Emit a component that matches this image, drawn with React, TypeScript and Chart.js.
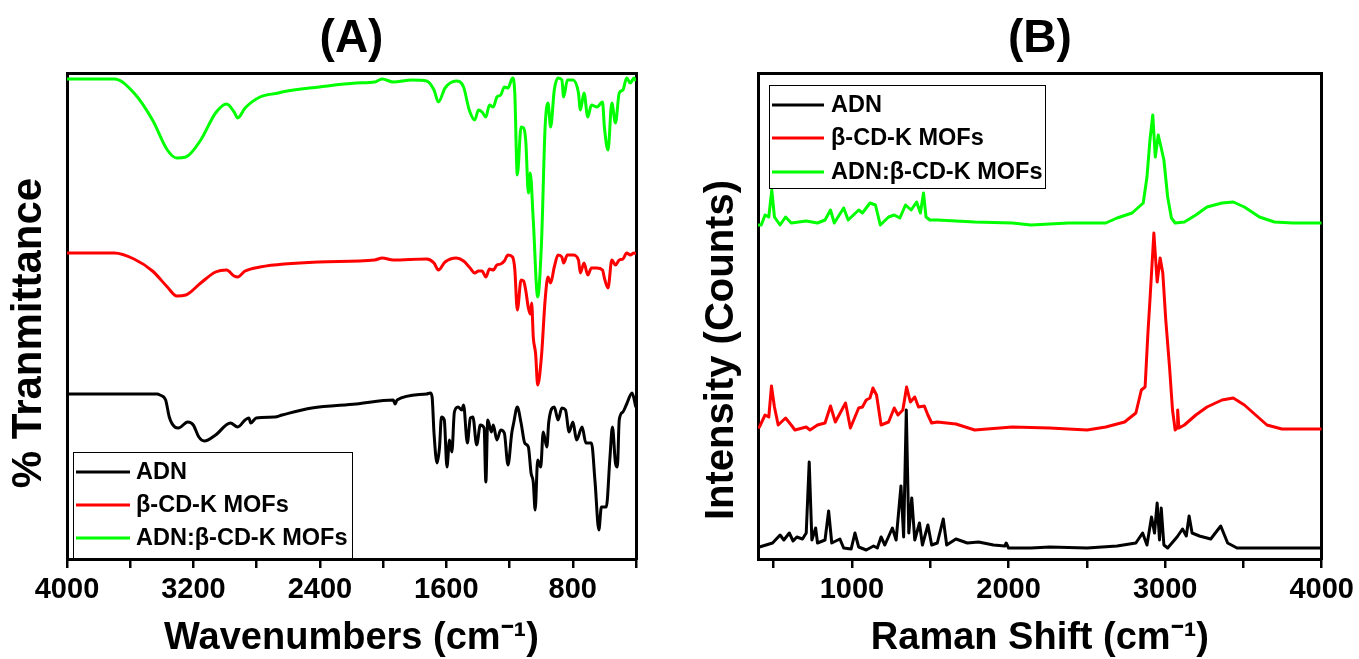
import React, { useEffect, useRef } from 'react';
import { Chart, registerables } from 'chart.js';

Chart.register(...registerables);

const FONT = '"Liberation Sans", Arial, Helvetica, sans-serif';

// ---------- legend / series ----------
const seriesNames = ['ADN', 'β-CD-K MOFs', 'ADN:β-CD-K MOFs'];
const seriesColors = ['#000000', '#ff0000', '#00ff00'];

// ---------- axes ----------
const ftirTicks = [4000, 3600, 3200, 2800, 2400, 2000, 1600, 1200, 800, 400];
const ftirLabelTicks = [4000, 3200, 2400, 1600, 800];
const ramanTicks = [500, 1000, 1500, 2000, 2500, 3000, 3500, 4000];
const ramanLabelTicks = [1000, 2000, 3000, 4000];

// ---------- (A) FTIR: [wavenumber, offset transmittance (a.u.)] ----------
const ftirADN: [number, number][] = [
  [4000, 165], [3430, 165], [3412, 164], [3376, 159], [3353, 142], [3318, 132], [3295, 131],
  [3236, 137], [3201, 134], [3166, 122], [3131, 118], [3060, 124], [2966, 136], [2920, 132],
  [2873, 139], [2849, 141], [2838, 136], [2803, 141], [2685, 142], [2639, 144], [2451, 151],
  [2170, 155], [1936, 159], [1924, 155], [1912, 159], [1725, 165], [1701, 166], [1690, 162],
  [1678, 126], [1659, 96], [1643, 112], [1631, 142], [1613, 139], [1596, 92], [1580, 119],
  [1565, 107], [1549, 147], [1526, 152], [1502, 149], [1491, 154], [1467, 116], [1448, 141],
  [1432, 142], [1408, 114], [1385, 134], [1361, 131], [1350, 77], [1338, 139], [1315, 127],
  [1303, 134], [1280, 119], [1256, 129], [1233, 126], [1210, 94], [1186, 126], [1174, 136],
  [1151, 152], [1127, 136], [1104, 116], [1081, 112], [1064, 86], [1050, 77], [1038, 49],
  [1022, 99], [1003, 92], [987, 127], [964, 112], [952, 137], [917, 152], [893, 139],
  [869, 151], [846, 149], [823, 127], [799, 137], [776, 119], [741, 132], [717, 116],
  [682, 116], [659, 77], [635, 29], [619, 52], [588, 52], [565, 101], [549, 132], [530, 96],
  [518, 92], [506, 139], [483, 147], [459, 155], [425, 166], [401, 152],
];

const ftirMOF: [number, number][] = [
  [4000, 306], [3700, 306], [3576, 300], [3459, 288], [3365, 272], [3306, 263], [3248, 264],
  [3154, 276], [3060, 287], [2990, 289], [2943, 283], [2920, 282], [2873, 288], [2779, 292],
  [2404, 297], [2053, 299], [2006, 301], [1936, 299], [1725, 300], [1678, 296], [1650, 289],
  [1608, 297], [1537, 301], [1491, 298], [1455, 292], [1420, 286], [1397, 288], [1374, 288],
  [1350, 282], [1327, 290], [1303, 289], [1280, 294], [1256, 295], [1233, 298], [1210, 304],
  [1181, 302], [1167, 290], [1151, 249], [1127, 279], [1111, 278], [1097, 268], [1081, 251],
  [1069, 245], [1060, 256], [1050, 222], [1035, 205], [1022, 174], [998, 203], [975, 259],
  [957, 282], [940, 276], [917, 292], [893, 304], [869, 302], [858, 296], [834, 304],
  [799, 304], [764, 299], [752, 286], [729, 296], [705, 284], [682, 291], [647, 291],
  [612, 289], [600, 281], [577, 271], [553, 299], [530, 294], [506, 299], [483, 300],
  [459, 306], [436, 304], [413, 306], [400, 305],
];

const ftirComposite: [number, number][] = [
  [4000, 480], [3700, 480], [3576, 466], [3459, 439], [3365, 409], [3306, 401], [3248, 402],
  [3154, 419], [3060, 446], [2990, 455], [2943, 447], [2920, 441], [2873, 451], [2779, 462],
  [2662, 466], [2639, 467], [2404, 472], [2170, 476], [2053, 477], [2006, 480], [1936, 477],
  [1818, 479], [1725, 478], [1678, 469], [1650, 457], [1608, 471], [1537, 478], [1491, 472],
  [1455, 449], [1420, 439], [1397, 449], [1374, 447], [1350, 442], [1327, 454], [1303, 452],
  [1280, 462], [1256, 464], [1233, 472], [1210, 471], [1181, 481], [1167, 466], [1151, 384],
  [1127, 432], [1111, 431], [1097, 417], [1081, 366], [1069, 386], [1050, 339], [1022, 262],
  [998, 316], [975, 432], [957, 456], [940, 432], [917, 469], [893, 481], [869, 479],
  [858, 462], [834, 479], [799, 479], [764, 466], [752, 449], [729, 466], [705, 442],
  [682, 454], [647, 452], [612, 457], [600, 432], [577, 409], [553, 456], [530, 436],
  [506, 466], [483, 469], [459, 481], [436, 476], [413, 481], [400, 478],
];

// ---------- (B) Raman: [shift, offset intensity (a.u.)] ----------
const ramanADN: [number, number][] = [
  [400, 12], [409, 12], [493, 16], [541, 24], [565, 19], [600, 26], [624, 18], [648, 22],
  [684, 20], [708, 26], [727, 97], [744, 19], [768, 31], [780, 16], [828, 19], [851, 48],
  [871, 16], [923, 20], [947, 11], [995, 10], [1019, 26], [1043, 12], [1091, 9], [1138, 13],
  [1162, 11], [1186, 22], [1210, 14], [1258, 31], [1282, 19], [1313, 73], [1330, 22],
  [1347, 149], [1363, 26], [1382, 61], [1401, 19], [1431, 36], [1450, 14], [1485, 34],
  [1509, 14], [1545, 16], [1583, 40], [1605, 14], [1664, 20], [1737, 16], [1808, 17],
  [1904, 14], [1976, 13], [1985, 16], [2000, 11], [2143, 11], [2263, 12], [2502, 11],
  [2693, 13], [2813, 16], [2856, 26], [2884, 14], [2913, 42], [2932, 26], [2949, 56],
  [2964, 19], [2975, 51], [2992, 14], [3016, 11], [3076, 22], [3111, 30], [3135, 23],
  [3153, 43], [3172, 26], [3219, 23], [3291, 20], [3355, 33], [3399, 16], [3459, 11],
  [3698, 11], [4000, 11],
];

const ramanMOF: [number, number][] = [
  [400, 131], [409, 132], [445, 144], [469, 142], [486, 173], [505, 152], [529, 134],
  [576, 141], [612, 134], [636, 129], [708, 132], [732, 129], [780, 134], [828, 136],
  [863, 153], [894, 137], [935, 149], [959, 156], [990, 131], [1043, 151], [1067, 152],
  [1091, 159], [1115, 161], [1134, 171], [1157, 164], [1186, 134], [1234, 137], [1270, 151],
  [1294, 144], [1325, 149], [1349, 172], [1373, 157], [1401, 162], [1425, 152], [1462, 153],
  [1485, 144], [1509, 136], [1545, 137], [1664, 135], [1784, 129], [2024, 132], [2263, 131],
  [2502, 129], [2621, 132], [2741, 137], [2813, 146], [2848, 169], [2872, 172], [2890, 226],
  [2903, 259], [2928, 326], [2949, 277], [2968, 301], [2985, 286], [3004, 239], [3028, 192],
  [3047, 149], [3064, 129], [3076, 131], [3080, 149], [3088, 131], [3123, 134], [3196, 144],
  [3267, 152], [3363, 159], [3435, 161], [3506, 154], [3578, 144], [3650, 134], [3745, 130],
  [4000, 130],
];

const ramanComposite: [number, number][] = [
  [400, 334], [421, 334], [445, 344], [469, 342], [488, 369], [505, 342], [541, 334],
  [576, 342], [612, 336], [708, 338], [780, 336], [828, 339], [863, 349], [887, 336],
  [947, 351], [976, 339], [1043, 349], [1067, 346], [1115, 356], [1150, 354], [1181, 334],
  [1234, 342], [1270, 344], [1306, 341], [1342, 354], [1378, 349], [1413, 357], [1437, 346],
  [1457, 366], [1473, 342], [1497, 339], [1545, 339], [1784, 337], [2024, 336], [2143, 334],
  [2382, 336], [2621, 336], [2693, 341], [2789, 346], [2860, 356], [2884, 382], [2903, 419],
  [2921, 444], [2937, 402], [2956, 424], [2975, 411], [2992, 399], [3016, 362], [3040, 341],
  [3064, 336], [3123, 337], [3196, 344], [3267, 352], [3363, 356], [3435, 357], [3506, 352],
  [3602, 342], [3698, 337], [3817, 336], [4000, 336],
];

// ---------- panel descriptions ----------
type Panel = {
  label: string;
  xTitle: string;
  yTitle: string;
  series: [number, number][][];
  ticks: number[];
  labelTicks: number[];
  reverse: boolean;
  smooth: boolean;
  lineWidth: number;
  width: number;
  left: number;
  yAxisWidth: number;
  padRight: number;
  yTitlePos: [number, number];
  yTitleSize: number;
  legendBox: [number, number, number, number];
  legendRows: number[];
  legendLine: [number, number];
  legendText: number;
};

const panels: Panel[] = [
  {
    label: '(A)',
    xTitle: 'Wavenumbers (cm⁻¹)',
    yTitle: '% Tranmittance',
    series: [ftirADN, ftirMOF, ftirComposite],
    ticks: ftirTicks,
    labelTicks: ftirLabelTicks,
    reverse: true,
    smooth: true,
    lineWidth: 3,
    width: 690,
    left: 0,
    yAxisWidth: 67,
    padRight: 54,
    yTitlePos: [29, 333],
    yTitleSize: 42,
    legendBox: [73, 452, 352, 558],
    legendRows: [472, 505, 538],
    legendLine: [76, 130],
    legendText: 136,
  },
  {
    label: '(B)',
    xTitle: 'Raman Shift (cm⁻¹)',
    yTitle: 'Intensity (Counts)',
    series: [ramanADN, ramanMOF, ramanComposite],
    ticks: ramanTicks,
    labelTicks: ramanLabelTicks,
    reverse: false,
    smooth: false,
    lineWidth: 3,
    width: 669,
    left: 690,
    yAxisWidth: 68,
    padRight: 33,
    yTitlePos: [32, 350],
    yTitleSize: 40,
    legendBox: [79, 85, 355, 188],
    legendRows: [105, 138, 172],
    legendLine: [82, 134],
    legendText: 141,
  },
];

const HEIGHT = 659;
const TOP = 73;
const BOTTOM_AXIS = 100;

function panelPlugin(p: Panel) {
  return {
    id: 'panelDecor',
    afterDraw(chart: any) {
      const ctx = chart.ctx as CanvasRenderingContext2D;
      const area = chart.chartArea;
      ctx.save();
      ctx.fillStyle = '#000';
      // panel label
      ctx.font = `bold 46px ${FONT}`;
      ctx.textAlign = 'center';
      ctx.textBaseline = 'middle';
      ctx.fillText(p.label, (area.left + area.right) / 2, 39);
      // y title
      ctx.save();
      ctx.translate(p.yTitlePos[0], p.yTitlePos[1]);
      ctx.rotate(-Math.PI / 2);
      ctx.font = `bold ${p.yTitleSize}px ${FONT}`;
      ctx.fillText(p.yTitle, 0, 0);
      ctx.restore();
      // legend
      const [x0, y0, x1, y1] = p.legendBox;
      ctx.fillStyle = '#fff';
      ctx.fillRect(x0, y0, x1 - x0, y1 - y0);
      ctx.strokeStyle = '#000';
      ctx.lineWidth = 1;
      ctx.strokeRect(x0 + 0.5, y0 + 0.5, x1 - x0, y1 - y0);
      ctx.font = `bold 23.5px ${FONT}`;
      ctx.textAlign = 'left';
      ctx.textBaseline = 'middle';
      chart.data.datasets.forEach((ds: any, i: number) => {
        const y = p.legendRows[i];
        ctx.strokeStyle = ds.borderColor;
        ctx.lineWidth = 3;
        ctx.beginPath();
        ctx.moveTo(p.legendLine[0], y);
        ctx.lineTo(p.legendLine[1], y);
        ctx.stroke();
        ctx.fillStyle = '#000';
        ctx.fillText(ds.label, p.legendText, y + 1);
      });
      ctx.restore();
    },
  };
}

function buildConfig(p: Panel): any {
  const xMin = 400;
  const xMax = 4000;
  const frame = { display: true, color: '#000', width: 3 };
  return {
    type: 'line',
    data: {
      datasets: p.series.map((s, i) => ({
        label: seriesNames[i],
        data: s.map(([x, y]) => ({ x, y })),
        borderColor: seriesColors[i],
        backgroundColor: seriesColors[i],
        borderWidth: p.lineWidth,
        borderJoinStyle: 'round',
        pointRadius: 0,
        tension: 0,
        cubicInterpolationMode: p.smooth ? 'monotone' : 'default',
        fill: false,
        xAxisID: 'x',
        yAxisID: 'y',
      })),
    },
    options: {
      responsive: false,
      animation: false,
      events: [],
      layout: { padding: { top: TOP, right: p.padRight, bottom: 0, left: 0 }, autoPadding: false },
      plugins: {
        legend: { display: false },
        tooltip: { enabled: false },
        title: { display: false },
      },
      scales: {
        x: {
          type: 'linear',
          position: 'bottom',
          min: xMin,
          max: xMax,
          reverse: p.reverse,
          afterBuildTicks: (s: any) => {
            s.ticks = p.ticks.map((v) => ({ value: v }));
          },
          afterFit: (s: any) => {
            s.height = BOTTOM_AXIS;
          },
          ticks: {
            autoSkip: false,
            maxRotation: 0,
            minRotation: 0,
            padding: 5,
            color: '#000',
            font: { family: FONT, size: 29, weight: 'bold' },
            callback: (v: any) => (p.labelTicks.includes(Number(v)) ? String(v) : ''),
          },
          grid: {
            display: true,
            drawOnChartArea: false,
            drawTicks: true,
            tickLength: 9,
            tickWidth: 2.5,
            tickColor: '#000',
            color: '#000',
            lineWidth: 2.5,
          },
          border: frame,
          title: {
            display: true,
            text: p.xTitle,
            color: '#000',
            font: { family: FONT, size: 38, weight: 'bold', lineHeight: 1 },
            padding: { top: 0, bottom: 1 },
          },
        },
        xTop: {
          type: 'linear',
          position: 'top',
          min: xMin,
          max: xMax,
          reverse: p.reverse,
          ticks: { display: false },
          grid: { display: false, drawTicks: false },
          border: frame,
          afterFit: (s: any) => {
            s.height = 0;
          },
        },
        y: {
          type: 'linear',
          position: 'left',
          min: 0,
          max: 486,
          ticks: { display: false },
          grid: { display: false, drawTicks: false },
          border: frame,
          afterFit: (s: any) => {
            s.width = p.yAxisWidth;
          },
        },
        yRight: {
          type: 'linear',
          position: 'right',
          min: 0,
          max: 486,
          ticks: { display: false },
          grid: { display: false, drawTicks: false },
          border: frame,
          afterFit: (s: any) => {
            s.width = 0;
          },
        },
      },
    },
    plugins: [panelPlugin(p)],
  };
}

function PanelChart({ panel }: { panel: Panel }) {
  const ref = useRef<HTMLCanvasElement | null>(null);
  useEffect(() => {
    if (!ref.current) return;
    const chart = new Chart(ref.current, buildConfig(panel));
    return () => chart.destroy();
  }, [panel]);
  return (
    <canvas
      ref={ref}
      width={panel.width}
      height={HEIGHT}
      style={{ position: 'absolute', left: panel.left, top: 0, width: panel.width, height: HEIGHT }}
    />
  );
}

export default function App() {
  return (
    <div
      style={{
        position: 'fixed',
        left: 0,
        top: 0,
        width: 1359,
        height: HEIGHT,
        background: '#ffffff',
        overflow: 'hidden',
      }}
    >
      {panels.map((p) => (
        <PanelChart key={p.label} panel={p} />
      ))}
    </div>
  );
}
